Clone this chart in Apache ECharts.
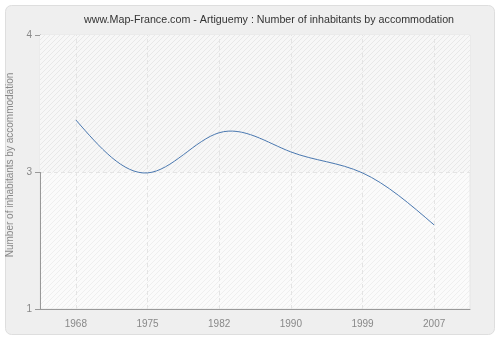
<!DOCTYPE html>
<html><head><meta charset="utf-8">
<script src="https://cdn.jsdelivr.net/npm/echarts@6/dist/echarts.min.js"></script>
<style>html,body{margin:0;padding:0;background:#fff}#c{width:500px;height:340px}</style>
</head><body><div id="c"></div>
<script>
var titleText = 'www.Map-France.com - Artiguemy : Number of inhabitants by accommodation';
var yAxisName = 'Number of inhabitants by accommodation';
var categories = ['1968', '1975', '1982', '1990', '1999', '2007'];
var values = [3.07, 2.49, 2.93, 2.72, 2.49, 1.92];
var yTickValues = [1, 2.5, 4];
var yTickLabels = ['1', '3', '4'];

function hatch(bg, line, step) {
  var cv = document.createElement('canvas');
  cv.width = step; cv.height = step;
  var g = cv.getContext('2d');
  g.fillStyle = bg; g.fillRect(0, 0, step, step);
  g.strokeStyle = line; g.lineWidth = 1;
  g.beginPath();
  g.moveTo(-1, step + 1); g.lineTo(step + 1, -1);
  g.moveTo(-1, 1); g.lineTo(1, -1);
  g.moveTo(step - 1, step + 1); g.lineTo(step + 1, step - 1);
  g.stroke();
  return { image: cv, repeat: 'repeat' };
}

// natural cubic spline through pixel points (uniform parameter), as bezier path
function splinePath(pts) {
  var n = pts.length;
  if (n < 2) return '';
  var ys = pts.map(function (p) { return p[1]; });
  var M = new Array(n).fill(0);
  if (n > 2) {
    var m = n - 2, d = [];
    for (var i = 1; i <= m; i++) d.push(6 * (ys[i + 1] - 2 * ys[i] + ys[i - 1]));
    var c = new Array(m), r = new Array(m);
    c[0] = 1 / 4; r[0] = d[0] / 4;
    for (var k = 1; k < m; k++) {
      var den = 4 - c[k - 1];
      c[k] = 1 / den; r[k] = (d[k] - r[k - 1]) / den;
    }
    var sol = new Array(m);
    sol[m - 1] = r[m - 1];
    for (var k2 = m - 2; k2 >= 0; k2--) sol[k2] = r[k2] - c[k2] * sol[k2 + 1];
    for (var q = 0; q < m; q++) M[q + 1] = sol[q];
  }
  var D = [];
  for (var j = 0; j < n - 1; j++) D.push((ys[j + 1] - ys[j]) - (2 * M[j] + M[j + 1]) / 6);
  D.push((ys[n - 1] - ys[n - 2]) + (M[n - 2] + 2 * M[n - 1]) / 6);
  var s = 'M' + pts[0][0] + ' ' + pts[0][1];
  for (var t = 0; t < n - 1; t++) {
    var x0 = pts[t][0], x1 = pts[t + 1][0], dx = (x1 - x0) / 3;
    s += ' C' + (x0 + dx) + ' ' + (ys[t] + D[t] / 3) + ' ' + (x1 - dx) + ' ' + (ys[t + 1] - D[t + 1] / 3) + ' ' + x1 + ' ' + ys[t + 1];
  }
  return s;
}

var chart = echarts.init(document.getElementById('c'), null, { renderer: 'canvas' });
chart.setOption({
  backgroundColor: '#ffffff',
  animation: false,
  graphic: [{
    type: 'rect', z: -10, silent: true,
    shape: { x: 5.5, y: 5.5, width: 489, height: 329, r: 6 },
    style: { fill: '#efefef', stroke: '#dedede', lineWidth: 1 }
  }],
  title: {
    text: titleText, left: 79, top: 10,
    textStyle: { fontFamily: 'Liberation Sans', fontSize: 10.7, fontWeight: 'normal', color: '#333' }
  },
  grid: {
    left: 40, right: 30, top: 35, bottom: 31, show: true, containLabel: false, outerBoundsMode: 'none',
    backgroundColor: hatch('#fbfbfb', '#efefef', 5), borderColor: '#e6e6e6', borderWidth: 1
  },
  xAxis: {
    type: 'category', data: categories, boundaryGap: true,
    axisLine: { lineStyle: { color: '#999' } },
    axisTick: { alignWithLabel: true, length: 5, lineStyle: { color: '#999' } },
    axisLabel: { color: '#888', fontFamily: 'Liberation Sans', fontSize: 10, margin: 10 },
    splitLine: { show: false }
  },
  yAxis: {
    type: 'value', min: 1, max: 4, interval: 1.5,
    name: yAxisName, nameLocation: 'middle', nameGap: 22,
    nameTextStyle: { color: '#888', fontFamily: 'Liberation Sans', fontSize: 10, padding: [0, 0, 0, 14] },
    axisLine: { show: true, lineStyle: { color: '#999' } },
    axisTick: { show: true, length: 5, lineStyle: { color: '#999' } },
    axisLabel: {
      color: '#888', fontFamily: 'Liberation Sans', fontSize: 10, margin: 8,
      formatter: function (v) {
        for (var i = 0; i < yTickValues.length; i++) if (Math.abs(v - yTickValues[i]) < 1e-6) return yTickLabels[i];
        return '';
      }
    },
    splitLine: { show: true, lineStyle: { color: '#e4e4e4', type: [4, 3] } }
  },
  series: [{
    type: 'line', data: [], z: 1,
    markArea: {
      silent: true,
      itemStyle: { color: hatch('#f7f7f7', '#e8e8e8', 5) },
      data: [[{ yAxis: 2.5 }, { yAxis: 4 }]]
    },
    markLine: {
      silent: true, symbol: 'none', label: { show: false },
      lineStyle: { color: '#e4e4e4', type: [4, 3], width: 1 },
      data: categories.map(function (c) { return { xAxis: c }; })
    }
  }, {
    type: 'custom', z: 5,
    data: values.map(function (v, i) { return [i, v]; }),
    encode: { x: 0, y: 1 },
    renderItem: function (params, api) {
      if (params.dataIndex !== 0) return null;
      var pts = values.map(function (v, i) { return api.coord([i, v]); });
      return {
        type: 'path',
        shape: { pathData: splinePath(pts) },
        style: { stroke: '#4a78b0', fill: 'none', lineWidth: 1 }
      };
    }
  }]
});
</script></body></html>
